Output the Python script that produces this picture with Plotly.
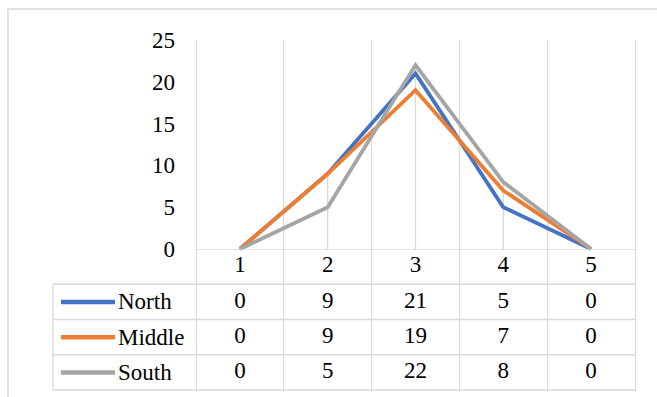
import plotly.graph_objects as go

# ---------------- data ----------------
categories = [1, 2, 3, 4, 5]
series_names = ["North", "Middle", "South"]
north = [0, 9, 21, 5, 0]
middle = [0, 9, 19, 7, 0]
south = [0, 5, 22, 8, 0]
series_values = [north, middle, south]
series_colors = ["#4472C4", "#ED7D31", "#A5A5A5"]
y_ticks = [0, 5, 10, 15, 20, 25]

# ---------------- geometry helpers (pixels -> paper) ----------------
W, H = 657, 397
def px_x(p):
    return p / W
def px_y(p):
    return (H - p) / H

cat_w = 87.8            # pixel width of one category column
plot_left = 196         # pixel x of boundary before category 1
def x_val(p):           # pixel -> x data value
    return 0.5 + (p - plot_left) / cat_w

dom_l, dom_r = 51, 637
x_range = [x_val(dom_l), x_val(dom_r)]
tbl_left = x_val(53)

top_px, zero_px, bot_dom_px = 40, 249, 252
ppu = (zero_px - top_px) / 25.0
y_range = [-(bot_dom_px - zero_px) / ppu, 25]

tbl_top, tbl_bot = 249, 390
FONT = "Liberation Serif, Times New Roman, serif"
FS = 23
GRID = "#D9D9D9"

fig = go.Figure()

# drop lines (from highest point of each category to axis)
dx, dy = [], []
for i, c in enumerate(categories):
    m = max(v[i] for v in series_values)
    dx += [c, c, None]
    dy += [0, m, None]
fig.add_trace(go.Scatter(x=dx, y=dy, mode="lines", line=dict(color=GRID, width=1.3),
                         hoverinfo="skip", xaxis="x", yaxis="y"))

for name, vals, col in zip(series_names, series_values, series_colors):
    fig.add_trace(go.Scatter(x=categories, y=vals, mode="lines", name=name,
                             line=dict(color=col, width=3.8), xaxis="x", yaxis="y"))

# table: header row (categories) and value rows
fig.add_trace(go.Scatter(x=categories, y=[0.5] * len(categories), mode="text",
                         text=[str(c) for c in categories],
                         textfont=dict(family=FONT, size=FS, color="#000000"),
                         xaxis="x", yaxis="y2", hoverinfo="skip"))
for r, vals in enumerate(series_values):
    fig.add_trace(go.Scatter(x=categories, y=[r + 1.5] * len(categories), mode="text",
                             text=[str(v) for v in vals],
                             textfont=dict(family=FONT, size=FS, color="#000000"),
                             xaxis="x", yaxis="y2", hoverinfo="skip"))

shapes = []
# outer chart frame
shapes.append(dict(type="rect", xref="paper", yref="paper",
                   x0=px_x(8), x1=1.2, y0=-0.2, y1=px_y(9),
                   line=dict(color=GRID, width=1.5), layer="below"))
# axis line at zero (top of table header)
shapes.append(dict(type="line", xref="x", yref="y2", x0=0.5, x1=5.5, y0=0, y1=0,
                   line=dict(color=GRID, width=1.3)))
# row lines
for yv in [1, 2, 3, 4]:
    shapes.append(dict(type="line", xref="x", yref="y2", x0=tbl_left, x1=5.5, y0=yv, y1=yv,
                       line=dict(color=GRID, width=1.3)))
# left border of legend column
shapes.append(dict(type="line", xref="x", yref="y2", x0=tbl_left, x1=tbl_left, y0=1, y1=4,
                   line=dict(color=GRID, width=1.3)))
# legend keys
for r, col in enumerate(series_colors):
    shapes.append(dict(type="line", xref="paper", yref="y2", x0=px_x(61), x1=px_x(115),
                       y0=r + 1.5, y1=r + 1.5, line=dict(color=col, width=4.5)))

annotations = []
for r, name in enumerate(series_names):
    annotations.append(dict(text=name, xref="paper", yref="y2", x=px_x(116), y=r + 1.5,
                            xanchor="left", yanchor="middle", showarrow=False,
                            font=dict(family=FONT, size=FS, color="#000000")))

fig.update_layout(
    width=W, height=H,
    margin=dict(l=0, r=0, t=0, b=0, pad=0, autoexpand=False),
    paper_bgcolor="white", plot_bgcolor="rgba(0,0,0,0)",
    showlegend=False,
    xaxis=dict(domain=[px_x(dom_l), px_x(dom_r)], range=x_range, anchor="y2",
               tickvals=[0.5, 1.5, 2.5, 3.5, 4.5, 5.5], showticklabels=False, ticks="",
               showgrid=True, gridcolor=GRID, gridwidth=1.3, zeroline=False, showline=False,
               automargin=False),
    yaxis=dict(domain=[px_y(bot_dom_px), px_y(top_px)], range=y_range,
               anchor="free", position=px_x(plot_left),
               tickvals=y_ticks, showgrid=False, zeroline=False, showline=False,
               ticks="", ticklabelstandoff=21, automargin=False,
               tickfont=dict(family=FONT, size=FS, color="#000000")),
    yaxis2=dict(domain=[px_y(tbl_bot + 2), px_y(tbl_top)],
                range=[4 + 2 / 35.25, 0], anchor="x", automargin=False,
                showgrid=False, zeroline=False, showline=False, showticklabels=False, ticks=""),
    shapes=shapes,
    annotations=annotations,
)

fig.write_html("out.html", config={"displayModeBar": False},
               post_script="document.body.style.margin='0';")
